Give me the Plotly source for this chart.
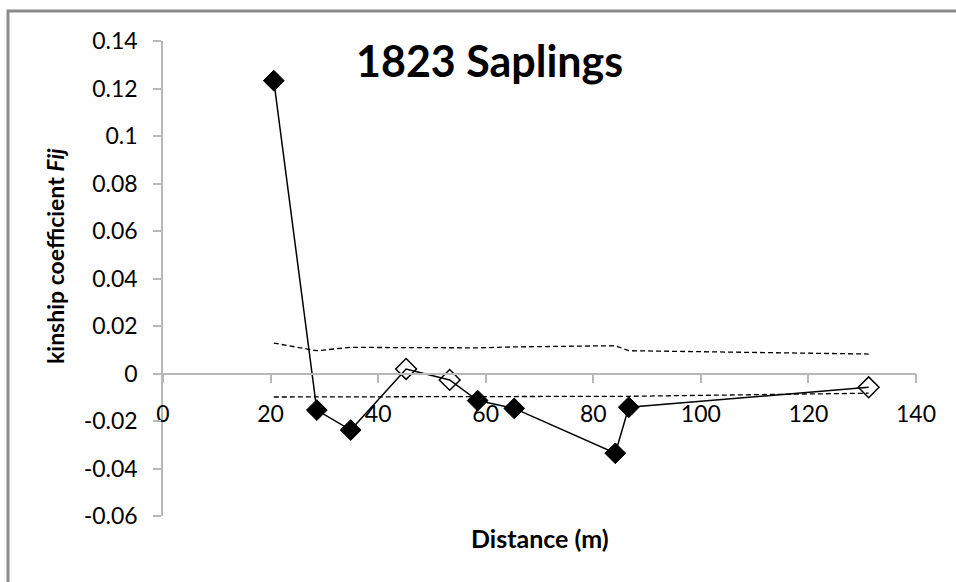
import plotly.graph_objects as go

distance = [20.6, 28.6, 34.9, 45.2, 53.3, 58.5, 65.3, 84.1, 86.6, 131.2]
fij = [0.1233, -0.0154, -0.0238, 0.0019, -0.0027, -0.0114, -0.0147, -0.0336, -0.0142, -0.0058]
significant = [True, True, True, False, False, True, True, True, True, False]
upper_ci = [0.0128, 0.0096, 0.0110, 0.0110, 0.0110, 0.0108, 0.0112, 0.0117, 0.0096, 0.0082]
lower_ci = [-0.0099, -0.0099, -0.0098, -0.0097, -0.0097, -0.0097, -0.0096, -0.0097, -0.0096, -0.0083]

y_ticks = [-0.06, -0.04, -0.02, 0, 0.02, 0.04, 0.06, 0.08, 0.1, 0.12, 0.14]
y_ticktext = ["-0.06", "-0.04", "-0.02", "0", "0.02", "0.04", "0.06", "0.08", "0.1", "0.12", "0.14"]
x_ticks = [0, 20, 40, 60, 80, 100, 120, 140]

FONT = "Lato"
W, H = 956, 582
L, R, T, B = 163, 40, 41, 66
pw, ph = W - L - R, H - T - B

def px(xp):
    return (xp - L) / pw

def py(yp):
    return (H - B - yp) / ph

fig = go.Figure()

fig.add_trace(go.Scatter(x=distance, y=upper_ci, mode="lines",
                         line=dict(color="black", width=1.3, dash="5px,3px"),
                         showlegend=False, hoverinfo="skip"))
fig.add_trace(go.Scatter(x=distance, y=lower_ci, mode="lines",
                         line=dict(color="black", width=1.3, dash="5px,3px"),
                         showlegend=False, hoverinfo="skip"))
fig.add_trace(go.Scatter(x=distance, y=fij, mode="lines",
                         line=dict(color="black", width=1.5),
                         showlegend=False))

sx = [d for d, s in zip(distance, significant) if s]
sy = [f for f, s in zip(fij, significant) if s]
nx = [d for d, s in zip(distance, significant) if not s]
ny = [f for f, s in zip(fij, significant) if not s]

fig.add_trace(go.Scatter(x=sx, y=sy, mode="markers",
                         marker=dict(symbol="diamond", size=16, color="black",
                                     line=dict(color="black", width=1)),
                         showlegend=False))
fig.add_trace(go.Scatter(x=nx, y=ny, mode="markers",
                         marker=dict(symbol="diamond-open", size=16, color="black",
                                     line=dict(color="black", width=1.5)),
                         showlegend=False))

fig.update_layout(
    width=W, height=H,
    margin=dict(l=L, r=R, t=T, b=B),
    paper_bgcolor="white", plot_bgcolor="white",
    font=dict(family=FONT, color="black", size=23),
    xaxis=dict(range=[0, 140], tickvals=x_ticks, showgrid=False, zeroline=False,
               showline=True, linecolor="#b8b8b8", linewidth=1.5,
               ticks="outside", ticklen=9, tickcolor="#b8b8b8", tickwidth=1.5,
               anchor="free", position=0.3, ticklabelstandoff=11,
               tickfont=dict(family=FONT, size=23, color="black")),
    yaxis=dict(range=[-0.06, 0.14], tickvals=y_ticks, ticktext=y_ticktext,
               showgrid=False, zeroline=False,
               showline=True, linecolor="#b8b8b8", linewidth=1.5,
               ticks="outside", ticklen=8, tickcolor="#b8b8b8", tickwidth=1.5,
               ticklabelstandoff=11,
               tickfont=dict(family=FONT, size=23, color="black")),
    shapes=[dict(type="rect", xref="paper", yref="paper",
                 x0=px(8), x1=1.3, y0=-0.4, y1=py(11),
                 line=dict(color="#8a8a8a", width=3), fillcolor="rgba(0,0,0,0)")],
    annotations=[
        dict(text="<b>1823 Saplings</b>", xref="paper", yref="paper",
             x=px(489), y=py(60), showarrow=False, xanchor="center", yanchor="middle",
             font=dict(family=FONT, size=43, color="black")),
        dict(text="<b>Distance (m)</b>", xref="paper", yref="paper",
             x=px(540), y=py(538), showarrow=False, xanchor="center", yanchor="middle",
             font=dict(family=FONT, size=25, color="black")),
        dict(text="<b>kinship coefficient <i>Fij</i></b>", xref="paper", yref="paper",
             x=px(55), y=py(256), showarrow=False, xanchor="center", yanchor="middle",
             textangle=-90, font=dict(family=FONT, size=23, color="black")),
    ],
)

fig.write_html("out.html")
